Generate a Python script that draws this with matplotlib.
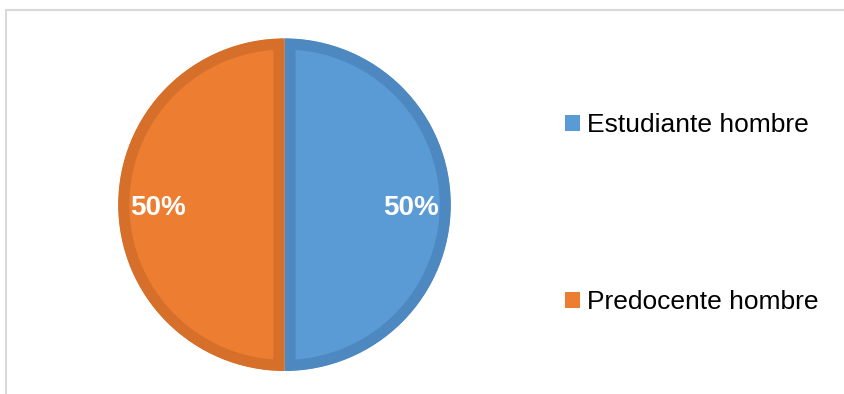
import matplotlib.pyplot as plt
import matplotlib.patches as mpatches

# Data
labels = ['Estudiante hombre', 'Predocente hombre']
values = [50, 50]
fill_colors = ['#5B9BD5', '#ED7D31']
edge_colors = ['#4E88C0', '#D56F2A']

W, H = 844, 394
fig = plt.figure(figsize=(W / 100, H / 100), dpi=100)
plt.rcParams['font.family'] = ['Liberation Sans', 'DejaVu Sans']

# outer chart frame (only top and left edges visible)
frame = mpatches.Rectangle((5.5 / W, -0.2), 1.2, 1.2 - 9.5 / H,
                           transform=fig.transFigure, fill=False,
                           edgecolor='#D9D9D9', linewidth=1.5)
fig.add_artist(frame)

cx, cy, r = 284.5, 204.7, 166.3
ax = fig.add_axes([(cx - r) / W, (H - cy - r) / H, 2 * r / W, 2 * r / H])

wedges, texts, autotexts = ax.pie(
    values, colors=fill_colors, startangle=90, counterclock=False,
    autopct='%1.0f%%', pctdistance=0.76,
    textprops=dict(color='white', fontsize=20, fontweight='bold'))
for t in autotexts:
    t.set_y(t.get_position()[1] - 0.02)

ax.set_xlim(-1, 1)
ax.set_ylim(-1, 1)
ax.set_aspect('equal')
ax.axis('off')

# darker inner band along each slice edge: thick stroke clipped to its own slice
for w, ec in zip(wedges, edge_colors):
    clip = mpatches.Wedge(w.center, w.r, w.theta1, w.theta2,
                          transform=ax.transData)
    w.set_edgecolor(ec)
    w.set_linewidth(16)
    w.set_clip_on(True)
    w.set_clip_path(clip)

fig.legend(wedges, labels, loc='upper left',
           bbox_to_anchor=(565 / W, 1 - 113 / H),
           frameon=False, fontsize=19, labelspacing=5.8,
           handlelength=0.55, handleheight=0.55, handletextpad=0.3,
           borderpad=0, borderaxespad=0)

# legend handles drawn in the plain fill colour
leg = fig.legends[0]
for h, c in zip(leg.legend_handles, fill_colors):
    h.set_edgecolor(c)
    h.set_facecolor(c)
    h.set_linewidth(0)
    h.set_clip_path(None)

fig.savefig('out.png', dpi=100)
